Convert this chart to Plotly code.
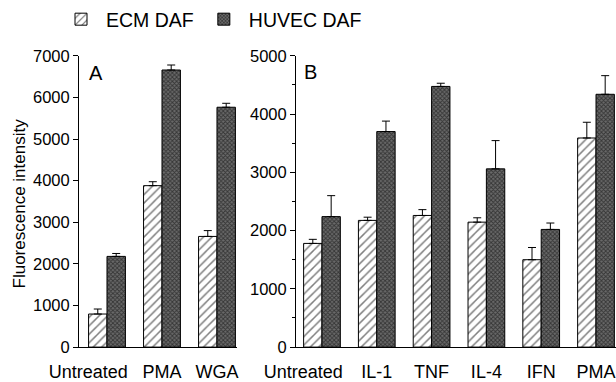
import plotly.graph_objects as go

FONT = "Liberation Sans, Arial, Helvetica, sans-serif"

# ---- data ----
cats_a = ["Untreated", "PMA", "WGA"]
ecm_a = [795, 3880, 2660]
ecm_a_err = [120, 95, 140]
huvec_a = [2180, 6660, 5765]
huvec_a_err = [70, 120, 95]

cats_b = ["Untreated", "IL-1", "TNF", "IL-4", "IFN", "PMA"]
ecm_b = [1780, 2175, 2260, 2145, 1500, 3590]
ecm_b_err = [70, 55, 100, 75, 210, 270]
huvec_b = [2240, 3700, 4475, 3060, 2020, 4340]
huvec_b_err = [360, 180, 55, 485, 110, 320]

series_names = ["ECM DAF", "HUVEC DAF"]
yticks_a = [0, 1000, 2000, 3000, 4000, 5000, 6000, 7000]
yticks_b = [0, 1000, 2000, 3000, 4000, 5000]

W, H = 616, 382

ecm_marker = dict(color="white", line=dict(color="black", width=1),
                  pattern=dict(shape="/", fgcolor="black", bgcolor="white",
                               size=6, solidity=0.25))
huvec_marker = dict(color="#444444", line=dict(color="black", width=1),
                    pattern=dict(shape="x", fgcolor="#000000", bgcolor="#6a6a6a",
                                 size=3, solidity=0.5))


def err(arr):
    return dict(type="data", array=arr, arrayminus=[0] * len(arr), symmetric=False,
                color="black", thickness=1, width=4)


fig = go.Figure()
xa = list(range(len(cats_a)))
xb = list(range(len(cats_b)))

fig.add_trace(go.Bar(x=xa, y=ecm_a, name=series_names[0], marker=ecm_marker,
                     error_y=err(ecm_a_err), xaxis="x", yaxis="y", legendgroup="e"))
fig.add_trace(go.Bar(x=xa, y=huvec_a, name=series_names[1], marker=huvec_marker,
                     error_y=err(huvec_a_err), xaxis="x", yaxis="y", legendgroup="h"))
fig.add_trace(go.Bar(x=xb, y=ecm_b, name=series_names[0], marker=ecm_marker,
                     error_y=err(ecm_b_err), xaxis="x2", yaxis="y2", legendgroup="e",
                     showlegend=False))
fig.add_trace(go.Bar(x=xb, y=huvec_b, name=series_names[1], marker=huvec_marker,
                     error_y=err(huvec_b_err), xaxis="x2", yaxis="y2", legendgroup="h",
                     showlegend=False))

ydom = [35 / H, 327 / H]
tickfont = dict(family=FONT, size=16.5, color="black")
xfont = dict(family=FONT, size=18, color="black")


# shift "Untreated" label left like reference
def tickpos(n):
    return [i - (0.34 if i == 0 else 0) for i in range(n)]


common_x = dict(ticks="", showline=True, linecolor="black", linewidth=1,
                showgrid=False, zeroline=False, automargin=False,
                ticklabeloverflow="allow", ticklabelstandoff=8, tickfont=xfont)

fig.update_layout(
    width=W, height=H, autosize=False,
    margin=dict(l=0, r=0, t=0, b=0),
    paper_bgcolor="white", plot_bgcolor="white",
    barmode="group", bargap=0.33, bargroupgap=0,
    font=dict(family=FONT, color="black"),
    xaxis=dict(domain=[79 / W, 237 / W], range=[-0.509, 2.364],
               tickvals=tickpos(len(cats_a)), ticktext=cats_a, anchor="y", **common_x),
    yaxis=dict(domain=ydom, range=[0, 7000], tickvals=yticks_a,
               tickfont=tickfont, ticks="outside", ticklen=5, tickcolor="black",
               showline=True, linecolor="black", linewidth=1,
               showgrid=False, zeroline=False, anchor="x", automargin=False),
    xaxis2=dict(domain=[296 / W, 1.0], range=[-0.474, 5.365],
                tickvals=tickpos(len(cats_b)), ticktext=cats_b, anchor="y2", **common_x),
    yaxis2=dict(domain=ydom, range=[0, 5000], tickvals=yticks_b,
                tickfont=tickfont, ticks="outside", ticklen=5, tickcolor="black",
                minor=dict(dtick=500, tick0=0, ticks="outside", ticklen=3,
                           tickcolor="black"),
                showline=True, linecolor="black", linewidth=1,
                showgrid=False, zeroline=False, anchor="x2", automargin=False),
    legend=dict(orientation="h", x=56 / W, xanchor="left", y=1 - 19 / H,
                yanchor="middle", font=dict(family=FONT, size=19.5, color="black"),
                bgcolor="rgba(0,0,0,0)", traceorder="normal", itemwidth=40),
    showlegend=True,
)

fig.add_annotation(text="Fluorescence intensity", textangle=-90, x=19 / W, y=1 - 203 / H,
                   xref="paper", yref="paper", showarrow=False,
                   font=dict(family=FONT, size=17, color="black"),
                   xanchor="center", yanchor="middle")
fig.add_annotation(text="A", x=87 / W, y=1 - 72 / H, xref="paper", yref="paper",
                   showarrow=False, xanchor="left", yanchor="middle",
                   font=dict(family=FONT, size=20, color="black"))
fig.add_annotation(text="B", x=302 / W, y=1 - 71 / H, xref="paper", yref="paper",
                   showarrow=False, xanchor="left", yanchor="middle",
                   font=dict(family=FONT, size=20, color="black"))

fig.write_html("out.html")
